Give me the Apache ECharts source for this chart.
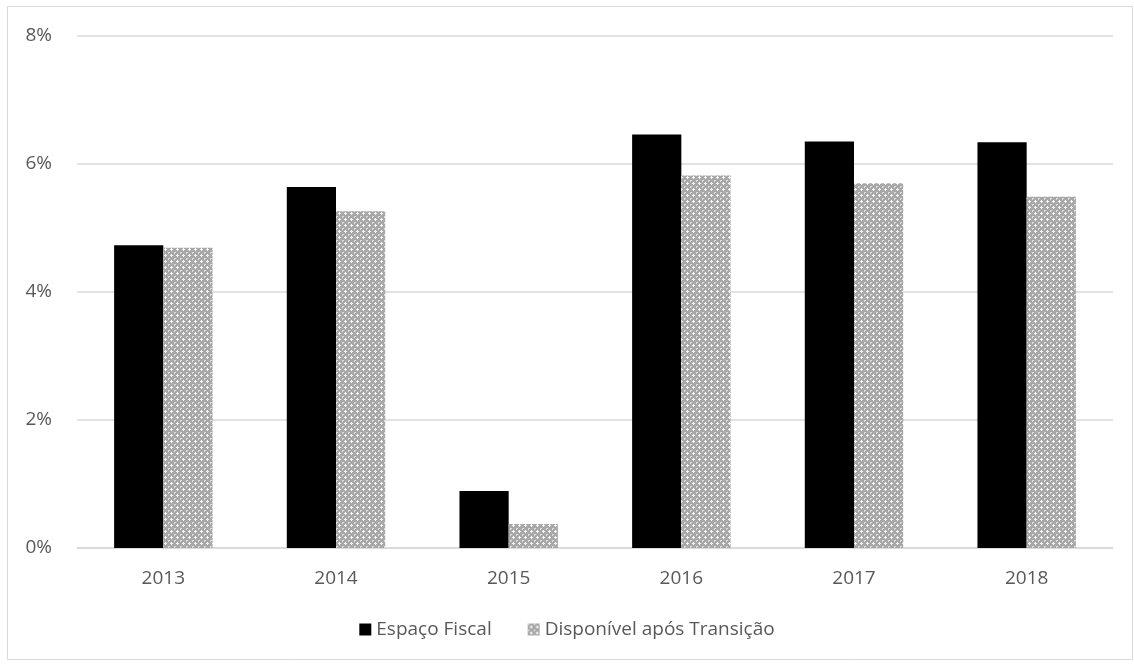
<!DOCTYPE html>
<html>
<head>
<meta charset="utf-8">
<script src="https://cdn.jsdelivr.net/npm/echarts@6/dist/echarts.min.js"></script>
<style>
  html, body { margin: 0; padding: 0; background: #fff; }
  #chart { width: 1134px; height: 666px; }
</style>
</head>
<body>
<div id="chart"></div>
<script>
// anos e valores (% do PIB)
const years = ['2013', '2014', '2015', '2016', '2017', '2018']
const espacoFiscal = [4.73, 5.64, 0.89, 6.46, 6.35, 6.34]
const disponivelAposTransicao = [4.69, 5.26, 0.375, 5.82, 5.70, 5.49]
const yTicks = [0, 2, 4, 6, 8]

// textura quadriculada cinza (tipo "padrão de pontos" do Excel)
function makeDotPattern() {
  const c = document.createElement('canvas')
  c.width = 6
  c.height = 6
  const ctx = c.getContext('2d')
  ctx.fillStyle = '#a8a8a8'
  ctx.fillRect(0, 0, 6, 6)
  ctx.fillStyle = '#f4f4f4'
  ctx.fillRect(3, 3, 1, 1)
  ctx.fillRect(2, 3, 1, 1)
  ctx.fillRect(4, 3, 1, 1)
  ctx.fillRect(3, 2, 1, 1)
  ctx.fillRect(3, 4, 1, 1)
  ctx.fillStyle = '#dcdcdc'
  ctx.fillRect(0, 0, 1, 1)
  ctx.fillRect(1, 0, 1, 1)
  ctx.fillRect(0, 1, 1, 1)
  return c
}

const font = '"Open Sans", "Liberation Sans", sans-serif'
const chart = echarts.init(document.getElementById('chart'), null, { renderer: 'canvas' })

chart.setOption({
  animation: false,
  backgroundColor: '#fff',
  textStyle: { fontFamily: font },
  graphic: [{
    type: 'rect',
    shape: { x: 7.5, y: 6.5, width: 1125, height: 653 },
    style: { fill: 'none', stroke: '#d9d9d9', lineWidth: 1 },
    silent: true,
  }],
  grid: { left: 77, right: 21, top: 36, bottom: 118 },
  legend: {
    bottom: 22,
    left: 'center',
    itemWidth: 12,
    itemHeight: 12,
    itemGap: 36,
    icon: 'rect',
    textStyle: { fontSize: 19, color: '#595959', fontFamily: font },
    data: ['Espaço Fiscal', 'Disponível após Transição'],
  },
  xAxis: {
    type: 'category',
    data: years,
    axisLine: { lineStyle: { color: '#d9d9d9', width: 1.5 } },
    axisTick: { show: false },
    axisLabel: { fontSize: 19, color: '#595959', margin: 21 },
  },
  yAxis: {
    type: 'value',
    min: yTicks[0],
    max: yTicks[yTicks.length - 1],
    interval: 2,
    axisLine: { show: false },
    axisTick: { show: false },
    splitLine: { lineStyle: { color: '#d9d9d9', width: 1.5 } },
    axisLabel: { fontSize: 19, color: '#595959', margin: 25, formatter: (v) => v + '%' },
  },
  series: [
    {
      name: 'Espaço Fiscal',
      type: 'bar',
      data: espacoFiscal,
      barGap: '0%',
      barCategoryGap: '43%',
      itemStyle: { color: '#000000' },
    },
    {
      name: 'Disponível após Transição',
      type: 'bar',
      data: disponivelAposTransicao,
      barGap: '0%',
      barCategoryGap: '43%',
      itemStyle: { color: { image: makeDotPattern(), repeat: 'repeat' } },
    },
  ],
})
</script>
</body>
</html>
